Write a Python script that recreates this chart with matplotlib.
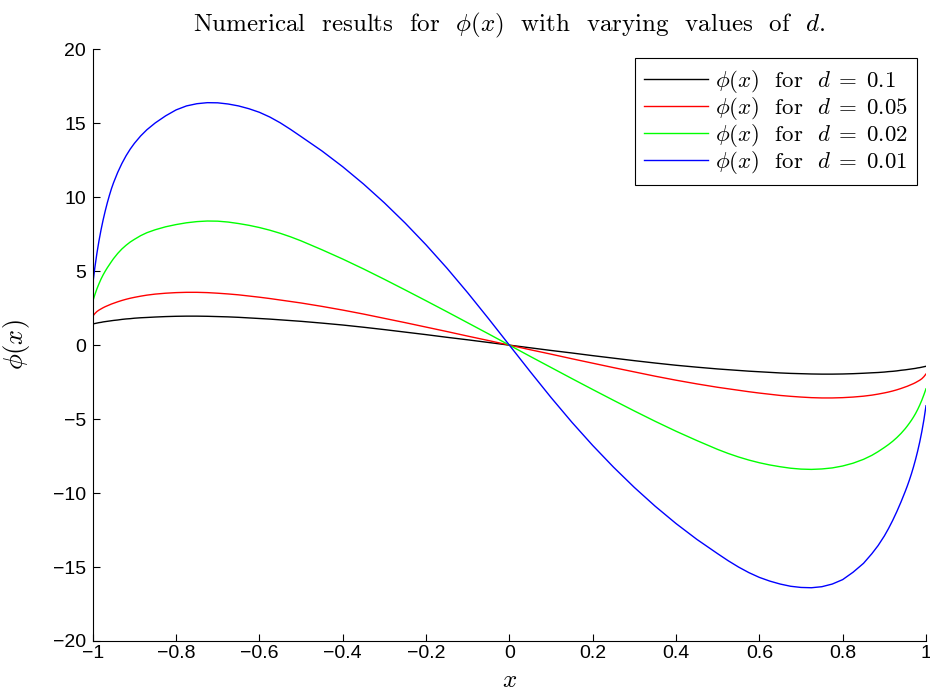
import matplotlib
matplotlib.use("Agg")
import matplotlib.pyplot as plt

plt.rcParams['mathtext.fontset'] = 'cm'
plt.rcParams['axes.unicode_minus'] = True

# x samples (denser near the walls where the curves get steep)
x = [-1, -0.995, -0.99, -0.985, -0.98, -0.975, -0.97, -0.965, -0.96, -0.955, -0.95,
     -0.94, -0.93, -0.92, -0.91, -0.9, -0.885, -0.87, -0.85, -0.825, -0.8, -0.775,
     -0.75, -0.725, -0.7, -0.675, -0.65, -0.625, -0.6, -0.575, -0.55, -0.525, -0.5,
     -0.45, -0.4, -0.35, -0.3, -0.25, -0.2, -0.15, -0.1, -0.05, 0,
     0.05, 0.1, 0.15, 0.2, 0.25, 0.3, 0.35, 0.4, 0.45, 0.5, 0.525, 0.55, 0.575,
     0.6, 0.625, 0.65, 0.675, 0.7, 0.725, 0.75, 0.775, 0.8, 0.825, 0.85, 0.87,
     0.885, 0.9, 0.91, 0.92, 0.93, 0.94, 0.95, 0.955, 0.96, 0.965, 0.97, 0.975,
     0.98, 0.985, 0.99, 0.995, 1]

# d = 0.1
phi_d01 = [1.43, 1.46, 1.49, 1.52, 1.54, 1.57, 1.59, 1.61, 1.63, 1.65, 1.67,
           1.7, 1.74, 1.77, 1.79, 1.82, 1.85, 1.87, 1.9, 1.93, 1.95, 1.96,
           1.96, 1.95, 1.93, 1.91, 1.88, 1.84, 1.8, 1.76, 1.71, 1.66, 1.61,
           1.49, 1.36, 1.21, 1.05, 0.88, 0.71, 0.53, 0.36, 0.18, 0,
           -0.18, -0.36, -0.53, -0.71, -0.88, -1.05, -1.21, -1.36, -1.49, -1.61, -1.66, -1.71, -1.76,
           -1.8, -1.84, -1.88, -1.91, -1.93, -1.95, -1.96, -1.96, -1.95, -1.93, -1.9, -1.87,
           -1.85, -1.82, -1.79, -1.77, -1.74, -1.7, -1.67, -1.65, -1.63, -1.61, -1.59, -1.57,
           -1.54, -1.52, -1.49, -1.46, -1.43]

# d = 0.05
phi_d005 = [1.95, 2.13, 2.27, 2.37, 2.45, 2.53, 2.6, 2.66, 2.72, 2.78, 2.83,
            2.93, 3.02, 3.1, 3.17, 3.23, 3.31, 3.38, 3.45, 3.51, 3.55, 3.57,
            3.57, 3.55, 3.51, 3.46, 3.4, 3.32, 3.24, 3.15, 3.05, 2.95, 2.85,
            2.62, 2.37, 2.1, 1.81, 1.52, 1.22, 0.92, 0.61, 0.31, 0,
            -0.31, -0.61, -0.92, -1.22, -1.52, -1.81, -2.1, -2.37, -2.62, -2.85, -2.95, -3.05, -3.15,
            -3.24, -3.32, -3.4, -3.46, -3.51, -3.55, -3.57, -3.57, -3.55, -3.51, -3.45, -3.38,
            -3.31, -3.23, -3.17, -3.1, -3.02, -2.93, -2.83, -2.78, -2.72, -2.66, -2.6, -2.53,
            -2.45, -2.37, -2.27, -2.13, -1.95]

# d = 0.02
phi_d002 = [2.95, 3.4, 3.8, 4.15, 4.47, 4.75, 5.0, 5.23, 5.44, 5.65, 5.85,
            6.2, 6.5, 6.75, 6.97, 7.15, 7.4, 7.6, 7.8, 8.0, 8.15, 8.27,
            8.35, 8.39, 8.38, 8.32, 8.22, 8.1, 7.95, 7.77, 7.56, 7.32, 7.05,
            6.45, 5.82, 5.15, 4.45, 3.73, 3.0, 2.26, 1.51, 0.76, 0,
            -0.76, -1.51, -2.26, -3.0, -3.73, -4.45, -5.15, -5.82, -6.45, -7.05, -7.32, -7.56, -7.77,
            -7.95, -8.1, -8.22, -8.32, -8.38, -8.4, -8.37, -8.3, -8.17, -7.98, -7.72, -7.45,
            -7.2, -6.92, -6.72, -6.5, -6.25, -5.97, -5.65, -5.47, -5.28, -5.08, -4.86, -4.62,
            -4.35, -4.05, -3.72, -3.35, -2.95]

# d = 0.01
phi_d001 = [4.1, 5.22, 6.2, 7.05, 7.8, 8.47, 9.07, 9.62, 10.12, 10.58, 10.98,
            11.68, 12.28, 12.8, 13.25, 13.64, 14.14, 14.56, 15.02, 15.5, 15.9, 16.17,
            16.32, 16.39, 16.38, 16.3, 16.17, 15.98, 15.74, 15.42, 15.03, 14.58, 14.1,
            13.13, 12.06, 10.89, 9.62, 8.25, 6.78, 5.21, 3.54, 1.79, 0,
            -1.79, -3.54, -5.21, -6.78, -8.25, -9.62, -10.89, -12.06, -13.13, -14.1, -14.57, -15.0, -15.38,
            -15.7, -15.95, -16.15, -16.3, -16.38, -16.4, -16.33, -16.15, -15.85, -15.35, -14.75, -14.1,
            -13.55, -12.9, -12.4, -11.85, -11.25, -10.6, -9.9, -9.53, -9.13, -8.7, -8.23, -7.72,
            -7.16, -6.54, -5.84, -5.04, -4.1]

labels = [r'$\phi(x)$  for  $d\;=\;0.1$', r'$\phi(x)$  for  $d\;=\;0.05$',
          r'$\phi(x)$  for  $d\;=\;0.02$', r'$\phi(x)$  for  $d\;=\;0.01$']
colors = ['k', '#ff0000', '#00ff00', '#0000ff']

fig = plt.figure(figsize=(9.3, 6.92), dpi=100)
ax = fig.add_axes([0.0997, 0.0737, 0.8960, 0.8551])

for ys, lab, c in zip([phi_d01, phi_d005, phi_d002, phi_d001], labels, colors):
    ax.plot(x, ys, color=c, lw=1.0, label=lab)

ax.set_xlim(-1, 1)
ax.set_ylim(-20, 20)
ax.set_xticks([-1, -0.8, -0.6, -0.4, -0.2, 0, 0.2, 0.4, 0.6, 0.8, 1])
ax.set_yticks([-20, -15, -10, -5, 0, 5, 10, 15, 20])
ax.set_xticklabels(['\u22121', '\u22120.8', '\u22120.6', '\u22120.4', '\u22120.2', '0',
                    '0.2', '0.4', '0.6', '0.8', '1'])
ax.set_yticklabels(['\u221220', '\u221215', '\u221210', '\u22125', '0', '5', '10', '15', '20'])
for t in ax.get_xticklabels() + ax.get_yticklabels():
    t.set_fontfamily('Liberation Sans')
    t.set_fontsize(14)
ax.tick_params(direction='in', length=5, width=0.8)
ax.tick_params(axis='x', pad=3)
ax.tick_params(axis='y', pad=5)
ax.spines['top'].set_visible(False)
ax.spines['right'].set_visible(False)
for s in ['left', 'bottom']:
    ax.spines[s].set_linewidth(0.8)

ax.set_title(r'Numerical  results  for  $\phi(x)$  with  varying  values  of  $d$.',
             fontfamily='cmr10', fontsize=18, pad=13)
ax.set_xlabel(r'$x$', fontsize=18, va='baseline')
ax.xaxis.set_label_coords(0.5, -0.0775)
ax.set_ylabel(r'$\phi(x)$', fontsize=19)
ax.yaxis.set_label_coords(-0.073, 0.5)

leg = ax.legend(loc='upper right', prop={'family': 'cmr10', 'size': 16.5},
                fancybox=False, edgecolor='k', framealpha=1, handlelength=2.8,
                borderpad=0.4, labelspacing=0.0, handletextpad=0.3,
                borderaxespad=0.4)
leg.get_frame().set_linewidth(0.8)

fig.savefig('out.png', dpi=100)
